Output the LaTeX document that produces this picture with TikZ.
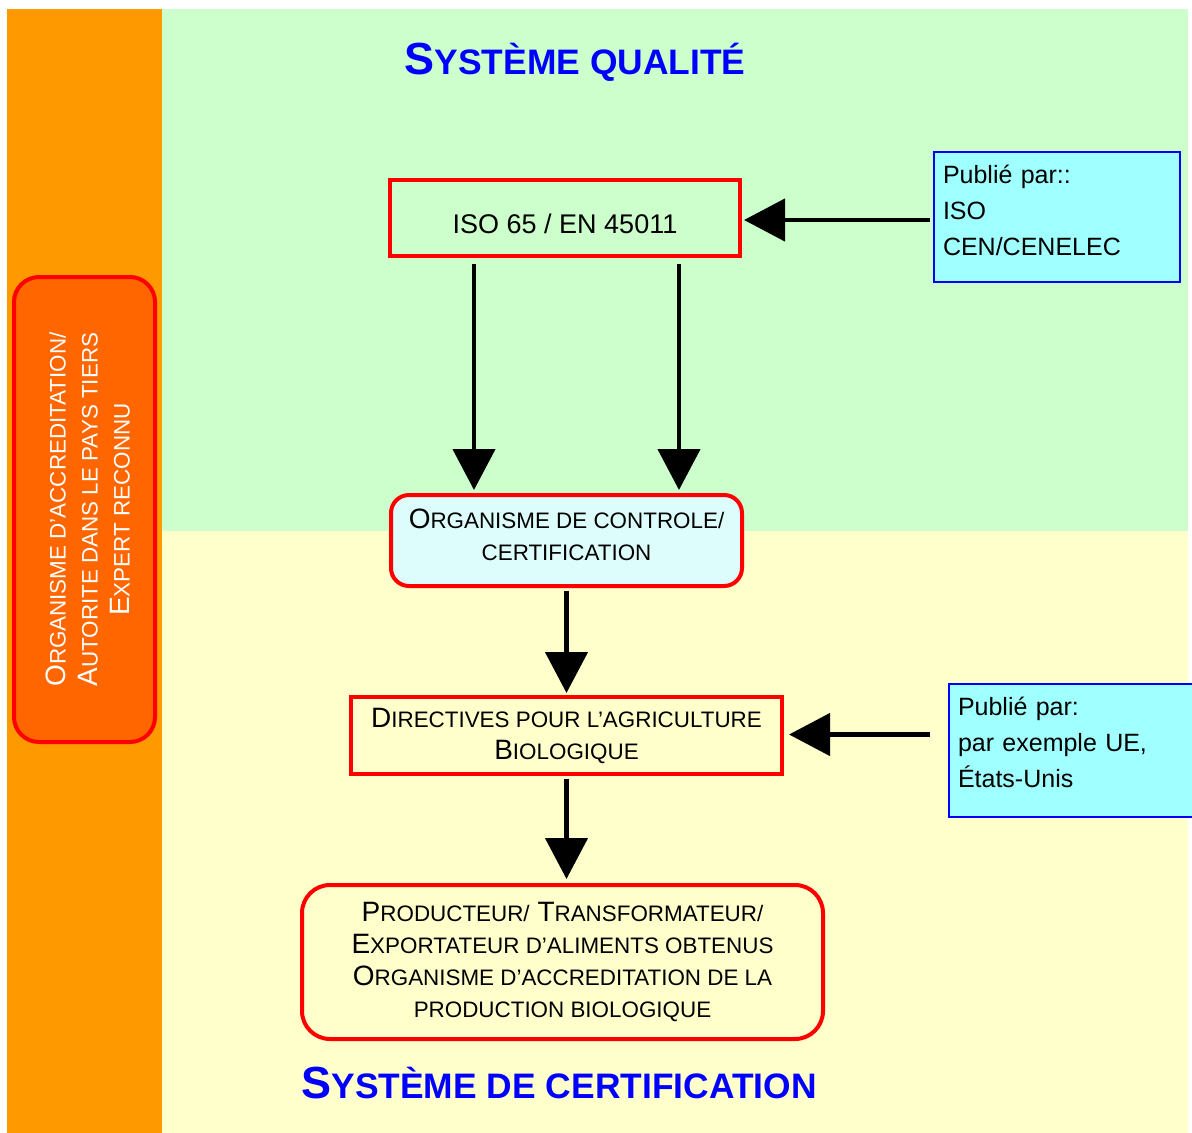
\documentclass[tikz,border=0pt]{standalone}
\usepackage{fontspec}
\setmainfont{Liberation Sans}
\usetikzlibrary{arrows.meta,calc}
\definecolor{orangebg}{HTML}{FF9900}
\definecolor{greenbg}{HTML}{CCFFCC}
\definecolor{yellowbg}{HTML}{FFFFCC}
\definecolor{boxred}{HTML}{FF0000}
\definecolor{leftfill}{HTML}{FF6600}
\definecolor{pubfill}{HTML}{A0FFFF}
\definecolor{orgfill}{HTML}{DDFDFD}
\definecolor{titleblue}{HTML}{0000FF}
\definecolor{pubborder}{HTML}{0000FF}
\newcommand\ssc[1]{{\fontsize{22.4}{32}\selectfont #1}}
\newcommand\tsc[1]{{\fontsize{35.4}{40}\selectfont #1}}
\begin{document}
\begin{tikzpicture}[x=1pt,y=-1pt,
  redbox/.style={draw=boxred, line width=4pt, align=center, inner sep=0pt, font=\fontsize{28}{32}\selectfont},
  pubbox/.style={draw=pubborder, line width=2pt, fill=pubfill, align=left, inner xsep=9pt, inner ysep=0pt, font=\fontsize{25}{36}\selectfont},
  arr/.style={line width=4.5pt, -{Triangle[length=41pt,width=42pt]}},
  title/.style={text=titleblue, font=\bfseries\fontsize{45}{50}\selectfont, inner sep=0pt}
]
\useasboundingbox (0,0) rectangle (1192,1133);
\clip (0,0) rectangle (1192,1133);
\fill[white] (0,0) rectangle (1192,1133);
\fill[orangebg] (7,9) rectangle (162,1133);
\fill[greenbg] (162,9) rectangle (1188,531);
\fill[yellowbg] (162,531) rectangle (1188,1133);

\node[title, anchor=base] (t1) at (575,74) {S\tsc{YSTÈME QUALITÉ}};
\node[title, anchor=base] (t2) at (559,1098) {S\tsc{YSTÈME DE CERTIFICATION}};

\node[redbox, font=\fontsize{27}{32}\selectfont, text height=31pt, text depth=0pt, minimum width=350, minimum height=76] (iso) at (565,218) {ISO 65 / EN 45011};
\node[redbox, fill=orgfill, rounded corners=18pt, text depth=11pt, minimum width=351, minimum height=91] (org) at (566.5,540.5)
  {O\ssc{RGANISME DE CONTROLE/}\\\ssc{CERTIFICATION}};
\node[redbox, minimum width=431, minimum height=77] (dir) at (566.5,735.5)
  {D\ssc{IRECTIVES POUR L’AGRICULTURE}\\B\ssc{IOLOGIQUE}};
\node[redbox, rounded corners=28pt, minimum width=521, minimum height=154] (prod) at (562.5,962)
  {P\ssc{RODUCTEUR/} T\ssc{RANSFORMATEUR/}\\E\ssc{XPORTATEUR D’ALIMENTS OBTENUS}\\O\ssc{RGANISME D’ACCREDITATION DE LA}\\\ssc{PRODUCTION BIOLOGIQUE}};
\node[redbox, fill=leftfill, text=white, rotate=90, rounded corners=25pt, text height=90pt, text depth=0pt, minimum width=465, minimum height=141] (acc) at (84.5,509.5)
  {O\ssc{RGANISME D’ACCREDITATION/}\\A\ssc{UTORITE DANS LE PAYS TIERS}\\E\ssc{XPERT RECONNU}};

\node[pubbox, text width=228pt, text height=18pt, text depth=86pt, minimum height=130] (pub1) at (1057,217)
  {Publié par::\\ISO\\CEN/CENELEC};
\node[pubbox, text width=293pt, text height=18pt, text depth=88pt, minimum height=133] (pub2) at (1104.5,750.5)
  {Publié par:\\par exemple UE,\\États-Unis};

\draw[arr] ($(pub1.west |- iso.east)+(-3,2)$) -- ($(iso.east)+(2,2)$);
\draw[arr] ($(iso.south)+(-91,6)$) -- ($(org.north)+(-92.5,-3)$);
\draw[arr] ($(iso.south)+(114,6)$) -- ($(org.north)+(112.5,-3)$);
\draw[arr] ($(org.south)+(0,3)$) -- ($(dir.north)+(0,-2)$);
\draw[arr] ($(pub2.west |- dir.east)+(-18,-1)$) -- ($(dir.east)+(5,-1)$);
\draw[arr] ($(dir.south)+(0,3)$) -- ($(dir.south |- prod.north)+(0,-4)$);
\end{tikzpicture}
\end{document}
